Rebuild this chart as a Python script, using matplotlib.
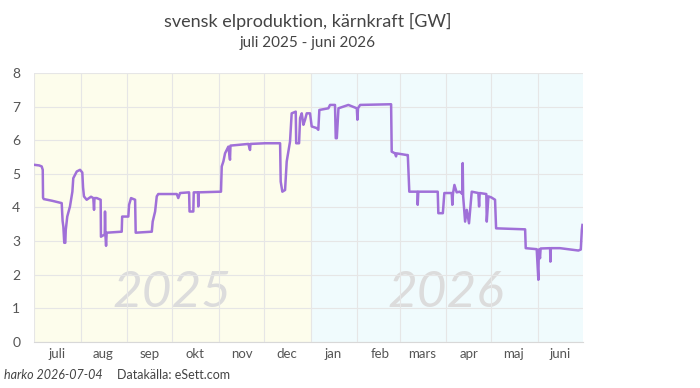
import matplotlib
matplotlib.use('Agg')
import matplotlib.pyplot as plt
import pandas as pd

# dagar efter 2025-07-01 och effekt i GW (avläst)
dag = [0, 3.5, 5.1, 5.8, 6.0, 6.5, 12, 18.4, 19.0, 19.5, 20.1, 20.8, 21.1, 22.1, 23.9,
       25.5, 26.1, 28.4, 30.6, 32.1, 32.6, 33.2, 35.0, 37.9, 39.4, 39.9, 40.2, 41.7, 44.3,
       44.5, 47.0, 47.2, 47.5, 47.9, 48.3, 58.3, 58.6, 62.7, 63.2, 64.5, 67.2, 67.6, 78.3,
       78.9, 80.5, 81.6, 82.6, 94.9, 95.9, 97.1, 103.1, 103.4, 105.9, 106.2, 109.0, 109.2,
       109.4, 124.3, 124.8, 125.9, 127.0, 129.2, 130.3, 130.6, 142.5, 143.6, 143.9, 153.6,
       163.6, 164.0, 165.1, 166.9, 168.0, 170.2, 171.3, 174.0, 174.3, 176.2, 176.9, 178.0,
       179.1, 180.2, 181.3, 183.5, 184.6, 188.0, 189.0, 189.7, 195.7, 196.8, 200.1, 200.6,
       201.3, 202.4, 209.0, 214.6, 215.0, 215.4, 216.8, 237.4, 237.8, 240.0, 240.7, 241.0,
       247.8, 248.5, 249.5, 254.9, 255.1, 255.5, 268.4, 268.8, 271.8, 272.8, 277.7, 278.1,
       278.5, 279.5, 281, 283, 284.8, 285.0, 285.3, 286.6, 287.7, 289.2, 291.0, 295.4, 295.9,
       296.3, 300.7, 301.0, 302.1, 304, 306.5, 307.2, 326.5, 326.9, 334.2, 335.3, 335.6,
       336.4, 336.8, 343.1, 343.3, 343.6, 349.7, 361.9, 363.5, 364.2, 364.6]
gw = [5.27, 5.25, 5.22, 5.12, 4.29, 4.25, 4.20, 4.13, 3.60, 3.43, 2.95, 2.95, 3.33, 3.73, 4.03,
      4.47, 4.87, 5.07, 5.12, 5.04, 4.60, 4.33, 4.23, 4.32, 4.28, 3.93, 4.28, 4.28, 4.23,
      3.13, 3.20, 3.88, 3.15, 2.86, 3.25, 3.28, 3.73, 3.73, 4.08, 4.28, 4.23, 3.25, 3.28,
      3.58, 3.88, 4.33, 4.40, 4.40, 4.28, 4.43, 4.45, 3.88, 3.88, 4.45, 4.45, 4.03,
      4.45, 4.47, 5.22, 5.37, 5.61, 5.81, 5.42, 5.84, 5.89, 5.71, 5.89, 5.91,
      5.91, 4.77, 4.47, 4.52, 5.37, 5.96, 6.80, 6.85, 5.91, 5.91, 6.66, 6.80,
      6.46, 6.61, 6.80, 6.80, 6.41, 6.36, 6.31, 6.90, 6.95, 7.05, 7.05, 6.06,
      6.06, 6.95, 7.05, 6.95, 6.61, 6.95, 7.05, 7.07, 5.66, 5.61, 5.52, 5.61,
      5.56, 5.56, 4.47, 4.47, 4.08, 4.47, 4.47, 3.83, 3.83, 4.43, 4.43, 4.08,
      4.40, 4.67, 4.45, 4.47, 4.40, 5.32, 4.33, 3.58, 3.93, 3.53, 4.47, 4.43, 4.03,
      4.43, 4.40, 3.58, 4.33, 4.30, 4.23, 3.38, 3.35, 2.79, 2.76, 1.85, 2.75,
      2.49, 2.78, 2.79, 2.39, 2.79, 2.79, 2.72, 2.75, 3.33, 3.48]

manader = ['juli', 'aug', 'sep', 'okt', 'nov', 'dec', 'jan', 'feb', 'mars', 'apr', 'maj', 'juni']
start = pd.Timestamp('2025-07-01')
arsskifte = pd.Timestamp('2026-01-01')
slut = pd.Timestamp('2026-07-01')

plt.rcParams['font.family'] = ['Lato', 'DejaVu Sans']

fig = plt.figure(figsize=(7, 3.88), dpi=100)
ax = fig.add_axes([0.0486, 0.1186, 0.7843, 0.6933])

tid = start + pd.to_timedelta(dag, unit='D')
ax.axvspan(start, arsskifte, color='#fdfdec', zorder=0, lw=0)
ax.axvspan(arsskifte, slut, color='#f0fbfd', zorder=0, lw=0)

ax.text(pd.Timestamp('2025-10-01'), 1.45, '2025', fontsize=37, style='italic',
        color='#dcdcdc', ha='center', va='center', zorder=1)
ax.text(pd.Timestamp('2026-04-01'), 1.45, '2026', fontsize=37, style='italic',
        color='#dcdcdc', ha='center', va='center', zorder=1)

ax.plot(tid, gw, color='#a070d8', lw=1.8, zorder=3)

ax.set_xlim(start, slut)
ax.set_ylim(0, 8)
ax.set_yticks(range(0, 9))

mstart = pd.date_range(start, periods=12, freq='MS')
ax.set_xticks(mstart)
ax.set_xticklabels([])
ax.set_xticks(mstart + pd.Timedelta(days=15), minor=True)
ax.set_xticklabels(manader, minor=True)
ax.tick_params(axis='x', which='both', length=0, colors='#555555', labelsize=9.5, pad=4)
ax.tick_params(axis='y', length=0, colors='#555555', labelsize=10, pad=10)

ax.grid(True, which='major', color='#e6e6e6', lw=0.8, zorder=2)
ax.set_axisbelow(False)
for s in ['top', 'right', 'left']:
    ax.spines[s].set_visible(False)
ax.spines['bottom'].set_color('#d8d8d8')

fig.text(0.44, 0.945, 'svensk elproduktion, kärnkraft [GW]', ha='center', va='center',
         fontsize=13, color='#444444')
fig.text(0.44, 0.888, 'juli 2025 - juni 2026', ha='center', va='center',
         fontsize=11, color='#444444')
fig.text(0.006, 0.022, 'harko 2026-07-04', fontsize=9, style='italic', color='#444444')
fig.text(0.167, 0.022, 'Datakälla: eSett.com', fontsize=9, color='#444444')

fig.savefig('out.png', dpi=100)
